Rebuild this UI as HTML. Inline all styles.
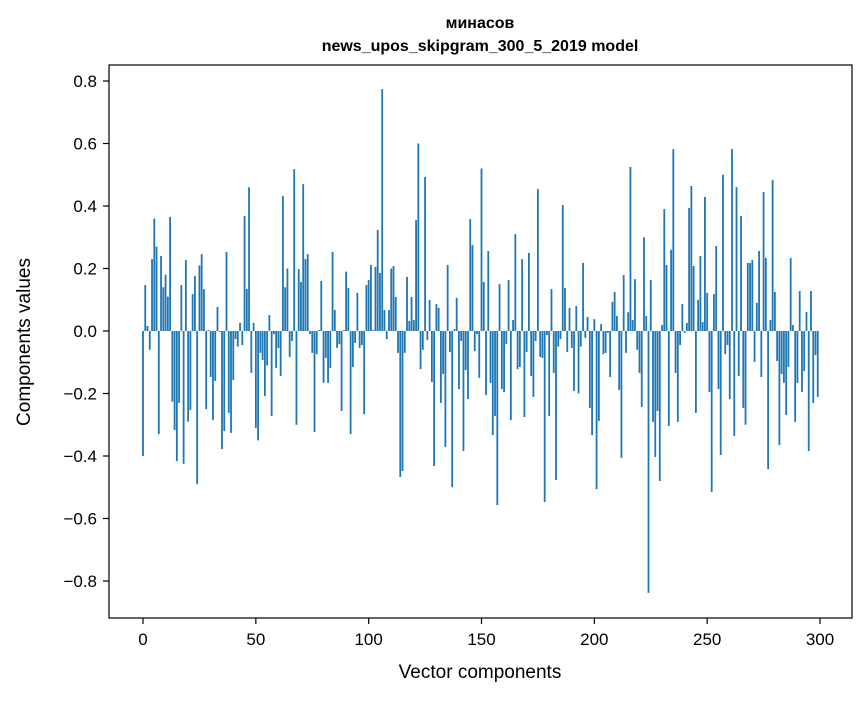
<!DOCTYPE html>
<html><head><meta charset="utf-8"><style>
body{margin:0;background:#fff;}
svg text{font-family:"Liberation Sans","DejaVu Sans",sans-serif;fill:#000;}
</style></head><body>
<svg id="chart" width="867" height="696" xmlns="http://www.w3.org/2000/svg">
<rect width="867" height="696" fill="#fff"/>
<text x="480" y="28" text-anchor="middle" font-size="16" font-weight="bold">минасов</text>
<text x="480" y="51" text-anchor="middle" font-size="16" font-weight="bold">news_upos_skipgram_300_5_2019 model</text>
<g id="bars"></g>
<g id="axes"></g>
<rect x="109" y="65" width="743" height="553" fill="none" stroke="#000" stroke-width="1.2"/>
<text x="480" y="678" text-anchor="middle" font-size="19">Vector components</text>
<text x="30" y="342" text-anchor="middle" font-size="19" transform="rotate(-90 30 342)">Components values</text>
</svg>
<script>
const values = [
-0.40,0.147,0.016,-0.06,0.23,0.36,0.27,-0.33,0.24,0.14,0.18,0.11,0.365,-0.226,-0.317,-0.416,-0.23,0.147,-0.425,0.227,
-0.29,-0.253,0.118,0.176,-0.49,0.21,0.246,0.134,-0.25,0.003,-0.147,-0.285,-0.16,0.077,-0.003,-0.378,-0.32,0.253,-0.262,-0.326,
-0.157,-0.026,-0.05,0.026,-0.045,0.368,0.134,0.46,-0.134,0.026,-0.31,-0.35,-0.07,-0.093,-0.208,-0.11,0.051,-0.272,-0.01,-0.118,
-0.054,-0.144,0.432,0.14,0.2,-0.083,-0.032,0.518,-0.3,0.198,0.157,0.47,0.23,0.246,-0.01,-0.07,-0.323,-0.074,0.003,0.16,
-0.166,-0.086,-0.166,-0.118,0.253,0.067,-0.054,-0.042,-0.256,0.003,0.19,0.138,-0.33,-0.115,-0.038,0.122,-0.054,-0.045,-0.266,0.147,
0.163,0.211,0.003,0.205,0.323,0.186,0.774,0.067,-0.026,0.067,0.2,0.208,0.109,-0.07,-0.467,-0.448,-0.07,0.173,0.032,0.109,
0.035,0.355,0.6,-0.122,-0.06,0.493,-0.029,0.099,-0.163,-0.432,0.086,0.074,-0.23,-0.138,-0.371,0.211,-0.067,-0.5,0.006,0.106,
-0.186,-0.032,-0.384,-0.125,-0.218,0.358,0.275,-0.064,-0.01,-0.15,0.52,0.157,-0.205,0.256,-0.166,-0.333,-0.272,-0.557,0.15,-0.186,
-0.195,-0.042,0.163,-0.285,0.035,0.31,-0.122,-0.115,0.23,-0.275,-0.067,0.25,-0.144,-0.211,-0.032,0.454,-0.083,-0.086,-0.547,-0.013,
-0.272,0.134,-0.134,-0.477,-0.05,-0.026,0.403,0.138,-0.067,0.074,-0.054,-0.192,0.08,-0.2,-0.05,0.218,-0.022,0.045,-0.246,-0.333,
0.038,-0.506,-0.288,0.022,-0.074,-0.07,-0.006,-0.147,0.093,0.125,0.048,-0.189,-0.406,0.179,-0.07,0.06,0.525,0.035,0.166,-0.06,
-0.134,-0.243,0.3,0.048,-0.838,0.163,-0.291,-0.403,-0.256,-0.48,0.019,0.39,0.211,-0.304,0.26,0.582,-0.134,-0.291,-0.045,0.086,
-0.006,0.026,0.394,0.464,0.208,-0.262,0.1,0.24,0.029,0.429,0.122,-0.195,-0.515,0.118,0.272,-0.186,-0.397,0.5,-0.074,-0.045,
-0.218,0.582,-0.336,0.46,-0.144,0.368,-0.246,-0.3,0.218,0.218,0.227,-0.099,0.09,0.256,-0.147,0.445,0.234,-0.442,0.035,0.483,
0.125,-0.096,-0.365,-0.138,-0.166,-0.269,-0.115,0.234,0.019,-0.291,-0.166,0.128,-0.195,-0.128,0.061,-0.384,0.128,-0.23,-0.077,-0.211
];
const xTicks = [0,50,100,150,200,250,300];
const yTicks = [-0.8,-0.6,-0.4,-0.2,0.0,0.2,0.4,0.6,0.8];

const NS = "http://www.w3.org/2000/svg";
function xScale(i){ return 143 + i*2.2567; }
function yScale(v){ return 331 - v*312.5; }
const barW = 0.8*2.2567;
const gb = document.getElementById('bars');
values.forEach((v,i)=>{
  const r = document.createElementNS(NS,'rect');
  const y0 = yScale(0), y1 = yScale(v);
  r.setAttribute('x', xScale(i)-barW/2);
  r.setAttribute('y', Math.min(y0,y1));
  r.setAttribute('width', barW);
  r.setAttribute('height', Math.max(Math.abs(y1-y0),0.3));
  r.setAttribute('fill', '#1f77b4');
  
  
  gb.appendChild(r);
});
const ga = document.getElementById('axes');
xTicks.forEach(t=>{
  const x = xScale(t);
  const l = document.createElementNS(NS,'line');
  l.setAttribute('x1',x); l.setAttribute('x2',x); l.setAttribute('y1',618); l.setAttribute('y2',624);
  l.setAttribute('stroke','#000'); l.setAttribute('stroke-width','1.2');
  
  
  ga.appendChild(l);
  const tx = document.createElementNS(NS,'text');
  tx.setAttribute('x',x); tx.setAttribute('y',645); tx.setAttribute('text-anchor','middle'); tx.setAttribute('font-size','17');
  tx.textContent = String(t);
  
  
  ga.appendChild(tx);
});
yTicks.forEach(t=>{
  const y = yScale(t);
  const l = document.createElementNS(NS,'line');
  l.setAttribute('x1',103); l.setAttribute('x2',109); l.setAttribute('y1',y); l.setAttribute('y2',y);
  l.setAttribute('stroke','#000'); l.setAttribute('stroke-width','1.2');
  
  
  ga.appendChild(l);
  const tx = document.createElementNS(NS,'text');
  tx.setAttribute('x',97); tx.setAttribute('y',y+6); tx.setAttribute('text-anchor','end'); tx.setAttribute('font-size','17');
  tx.textContent = (t<0?'\u2212':'') + Math.abs(t).toFixed(1);
  
  
  ga.appendChild(tx);
});
</script>
</body></html>
